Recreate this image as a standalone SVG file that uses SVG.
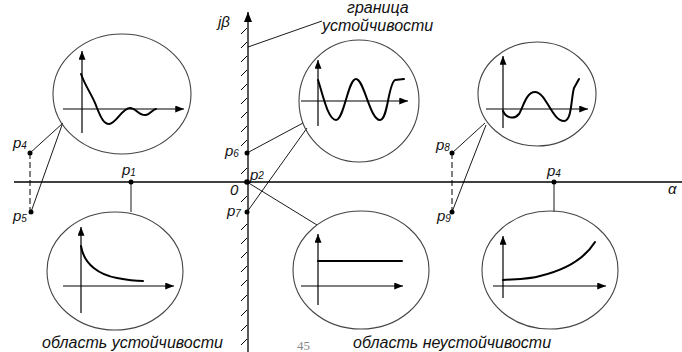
<svg xmlns="http://www.w3.org/2000/svg" width="682" height="352" viewBox="0 0 682 352">
<defs>
<marker id="ah" viewBox="0 0 10 8" refX="10" refY="4" markerWidth="10" markerHeight="8" markerUnits="userSpaceOnUse" orient="auto"><path d="M0,0 L10,4 L0,8 Z" fill="#000"/></marker>
<marker id="ahs" viewBox="0 0 10 8" refX="10" refY="4" markerWidth="9" markerHeight="7" markerUnits="userSpaceOnUse" orient="auto"><path d="M0,0 L10,4 L0,8 Z" fill="#000"/></marker>
</defs>
<style>
.ax{stroke:#000;stroke-width:1.3;fill:none}
.ell{stroke:#444;stroke-width:1.1;fill:none}
.iax{stroke:#000;stroke-width:1.2;fill:none}
.cur{stroke:#000;stroke-width:2;fill:none;stroke-linecap:round;stroke-linejoin:round}
.ld{stroke:#000;stroke-width:0.9;fill:none}
.dash{stroke:#000;stroke-width:1;fill:none;stroke-dasharray:6,3}
.hatch{stroke:#000;stroke-width:1}
.lb{font-family:"Liberation Sans",Arial,sans-serif;font-style:italic;font-size:15px;fill:#111}
.sub{font-size:10px}
.cap{font-family:"Liberation Sans",Arial,sans-serif;font-style:italic;font-size:16px;fill:#111}
.dot{fill:#000}
</style>
<g id="axes">
<line class="ax" x1="14" y1="182" x2="682" y2="182"/>
<line class="ax" x1="248" y1="352" x2="248" y2="12" marker-end="url(#ah)"/>
<g id="hatching" class="hatch">
<line x1="241" y1="34" x2="247" y2="28"/>
<line x1="241" y1="48" x2="247" y2="42"/>
<line x1="241" y1="62" x2="247" y2="56"/>
<line x1="241" y1="76" x2="247" y2="70"/>
<line x1="241" y1="90" x2="247" y2="84"/>
<line x1="241" y1="104" x2="247" y2="98"/>
<line x1="241" y1="118" x2="247" y2="112"/>
<line x1="241" y1="132" x2="247" y2="126"/>
<line x1="241" y1="146" x2="247" y2="140"/>
<line x1="241" y1="174" x2="247" y2="168"/>
<line x1="241" y1="202" x2="247" y2="196"/>
<line x1="241" y1="230" x2="247" y2="224"/>
<line x1="241" y1="244" x2="247" y2="238"/>
<line x1="241" y1="258" x2="247" y2="252"/>
<line x1="241" y1="272" x2="247" y2="266"/>
<line x1="241" y1="286" x2="247" y2="280"/>
<line x1="241" y1="301" x2="247" y2="295"/>
<line x1="241" y1="316" x2="247" y2="310"/>
<line x1="241" y1="331" x2="247" y2="325"/>
<line x1="241" y1="345" x2="247" y2="339"/>
</g>
<text class="lb" x="218" y="27">jβ</text>
<text class="lb" x="668" y="194">α</text>
<text class="lb" x="230" y="195">0</text>
</g>
<g id="connectors">
<line class="ld" x1="322" y1="21" x2="248" y2="47"/>
<line class="dash" x1="30" y1="153" x2="30" y2="212"/>
<line class="ld" x1="30" y1="153" x2="63" y2="123"/>
<line class="ld" x1="31" y1="212" x2="62" y2="125"/>
<line class="ld" x1="247" y1="153" x2="303" y2="123"/>
<line class="ld" x1="247" y1="212" x2="307" y2="128"/>
<line class="dash" x1="452" y1="153" x2="452" y2="212"/>
<line class="ld" x1="452" y1="153" x2="485" y2="123"/>
<line class="ld" x1="452" y1="212" x2="486" y2="125"/>
<line class="ld" x1="131" y1="182" x2="131" y2="212"/>
<line class="ld" x1="247" y1="182" x2="317" y2="225"/>
<line class="ld" x1="554" y1="182" x2="554" y2="212"/>
</g>
<g id="points">
<circle class="dot" cx="30" cy="153" r="2.5"/>
<circle class="dot" cx="31" cy="212" r="2.5"/>
<circle class="dot" cx="247" cy="153" r="2.5"/>
<circle class="dot" cx="247" cy="212" r="2.5"/>
<circle class="dot" cx="247" cy="182" r="2.8"/>
<circle class="dot" cx="452" cy="153" r="2.5"/>
<circle class="dot" cx="452" cy="212" r="2.5"/>
<circle class="dot" cx="131" cy="182" r="2.5"/>
<circle class="dot" cx="554" cy="182" r="2.5"/>
<text class="lb" x="13" y="148">p<tspan class="sub" dy="1">4</tspan></text>
<text class="lb" x="13" y="221">p<tspan class="sub" dy="1">5</tspan></text>
<text class="lb" x="225" y="156">p<tspan class="sub" dy="1">6</tspan></text>
<text class="lb" x="227" y="216">p<tspan class="sub" dy="1">7</tspan></text>
<text class="lb" x="250" y="180">p<tspan class="sub" dy="-1">2</tspan></text>
<text class="lb" x="436" y="150">p<tspan class="sub" dy="1">8</tspan></text>
<text class="lb" x="437" y="221">p<tspan class="sub" dy="1">9</tspan></text>
<text class="lb" x="122" y="175">p<tspan class="sub" dy="1">1</tspan></text>
<text class="lb" x="547" y="176">p<tspan class="sub" dy="1">4</tspan></text>
</g>
<g id="boundary-label">
<text class="cap" x="347" y="13">граница</text>
<text class="cap" x="322" y="31">устойчивости</text>
</g>
<g id="node-damped">
<ellipse class="ell" cx="122" cy="94" rx="69" ry="60"/>
<line class="iax" x1="82" y1="133" x2="82" y2="51" marker-end="url(#ahs)"/>
<line class="iax" x1="63" y1="109" x2="184" y2="109" marker-end="url(#ahs)"/>
<path class="cur" d="M81,74 C86,88 93,96 97,108 C101,118 104,124 109,124 C116,124 122,108 130,108 C136,108 139,116 146,115 C151,114 153,109 156,109"/>
</g>
<g id="node-oscillating">
<ellipse class="ell" cx="359" cy="101" rx="60" ry="61"/>
<line class="iax" x1="318" y1="126" x2="318" y2="60" marker-end="url(#ahs)"/>
<line class="iax" x1="301" y1="101" x2="408" y2="101" marker-end="url(#ahs)"/>
<path class="cur" d="M318,80 C323,95 328,120 336,120 C344,120 348,79 356,79 C364,79 370,120 380,120 C388,120 388,84 395,80 L404,79"/>
</g>
<g id="node-growing-osc">
<ellipse class="ell" cx="537" cy="94" rx="59" ry="52"/>
<line class="iax" x1="503" y1="128" x2="503" y2="56" marker-end="url(#ahs)"/>
<line class="iax" x1="486" y1="109" x2="588" y2="109" marker-end="url(#ahs)"/>
<path class="cur" d="M503,111 C506,118 514,120 519,114 C523,108 526,92 535,92 C546,92 552,121 564,121 C572,121 571,98 574,88 L579,79"/>
</g>
<g id="node-decay">
<ellipse class="ell" cx="115" cy="271" rx="68" ry="59"/>
<line class="iax" x1="81" y1="313" x2="81" y2="227" marker-end="url(#ahs)"/>
<line class="iax" x1="63" y1="286" x2="174" y2="286" marker-end="url(#ahs)"/>
<path class="cur" d="M81,246 C84,265 100,275 117,278 C127,280 135,281 143,281"/>
</g>
<g id="node-constant">
<ellipse class="ell" cx="361" cy="270" rx="68" ry="59"/>
<line class="iax" x1="318" y1="305" x2="318" y2="234" marker-end="url(#ahs)"/>
<line class="iax" x1="301" y1="286" x2="403" y2="286" marker-end="url(#ahs)"/>
<path class="cur" d="M318,261 L402,261"/>
</g>
<g id="node-growth">
<ellipse class="ell" cx="550" cy="270" rx="68" ry="59"/>
<line class="iax" x1="503" y1="298" x2="503" y2="236" marker-end="url(#ahs)"/>
<line class="iax" x1="493" y1="286" x2="606" y2="286" marker-end="url(#ahs)"/>
<path class="cur" d="M503,280 C520,279 530,279 540,276 C565,270 585,258 595,242"/>
</g>
<g id="captions">
<text class="cap" x="42" y="348">область устойчивости</text>
<text class="cap" x="353" y="348">область неустойчивости</text>
<text x="297" y="350" font-family="Liberation Serif,serif" font-size="13" fill="#888">45</text>
</g>
</svg>
